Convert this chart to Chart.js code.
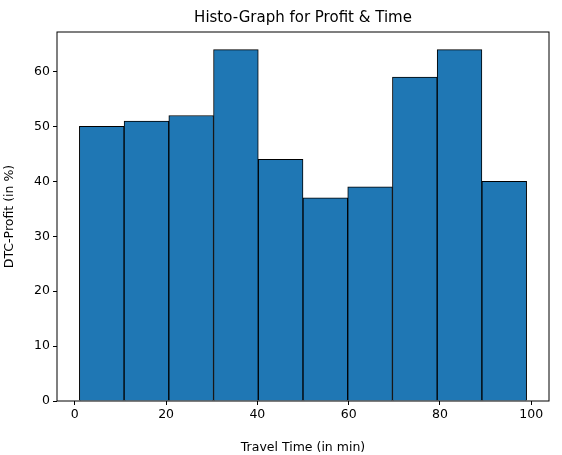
<!DOCTYPE html>
<html>
<head>
<meta charset="utf-8">
<script src="https://cdn.jsdelivr.net/npm/chart.js"></script>
<style>body{margin:0;background:#fff}</style>
</head>
<body>
<canvas id="c" width="562" height="455"></canvas>
<script>
// histogram bins (edges) and counts
const binEdges = [1, 10.8, 20.6, 30.4, 40.2, 50, 59.8, 69.6, 79.4, 89.2, 99];
const counts = [50, 51, 52, 64, 44, 37, 39, 59, 64, 40];
const xTicks = [0, 20, 40, 60, 80, 100];
const yTicks = [0, 10, 20, 30, 40, 50, 60];

const points = counts.map((v, i) => ({ x: (binEdges[i] + binEdges[i + 1]) / 2, y: v }));

const font = { family: 'DejaVu Sans', size: 12.5 };

const framePlugin = {
    id: 'frame',
    afterDraw(chart) {
        const { ctx, chartArea: a } = chart;
        ctx.save();
        ctx.strokeStyle = '#000';
        ctx.lineWidth = 1;
        ctx.strokeRect(a.left, a.top, a.right - a.left, a.bottom - a.top);
        ctx.fillStyle = '#000';
        ctx.font = '15px DejaVu Sans';
        ctx.textAlign = 'center';
        ctx.textBaseline = 'middle';
        ctx.fillText('Histo-Graph for Profit & Time', (a.left + a.right) / 2, 18);
        ctx.restore();
    }
};

new Chart(document.getElementById('c'), {
    type: 'bar',
    data: {
        datasets: [{
            data: points,
            backgroundColor: '#1f77b4',
            borderColor: '#000',
            borderWidth: 1,
            barPercentage: 1,
            categoryPercentage: 1
        }]
    },
    options: {
        responsive: false,
        animation: false,
        layout: { padding: { top: 32, right: 13, left: 0, bottom: 0 } },
        plugins: { legend: { display: false }, tooltip: { enabled: false } },
        scales: {
            x: {
                type: 'linear',
                offset: false,
                min: -3.9,
                max: 103.9,
                afterBuildTicks: s => { s.ticks = xTicks.map(v => ({ value: v })); },
                afterFit: s => { s.height = 54; },
                grid: { offset: false, drawOnChartArea: false, color: '#000', tickLength: 4 },
                border: { display: false },
                ticks: { color: '#000', font, padding: 2, maxRotation: 0 },
                title: { display: true, text: 'Travel Time (in min)', color: '#000', font, padding: { top: 2, bottom: 0 } }
            },
            y: {
                min: 0,
                max: 67.2,
                afterBuildTicks: s => { s.ticks = yTicks.map(v => ({ value: v })); },
                afterFit: s => { s.width = 57; },
                grid: { drawOnChartArea: false, color: '#000', tickLength: 4 },
                border: { display: false },
                ticks: { color: '#000', font, padding: 3 },
                title: { display: true, text: 'DTC-Profit (in %)', color: '#000', font, padding: 2 }
            }
        }
    },
    plugins: [framePlugin]
});
</script>
</body>
</html>
